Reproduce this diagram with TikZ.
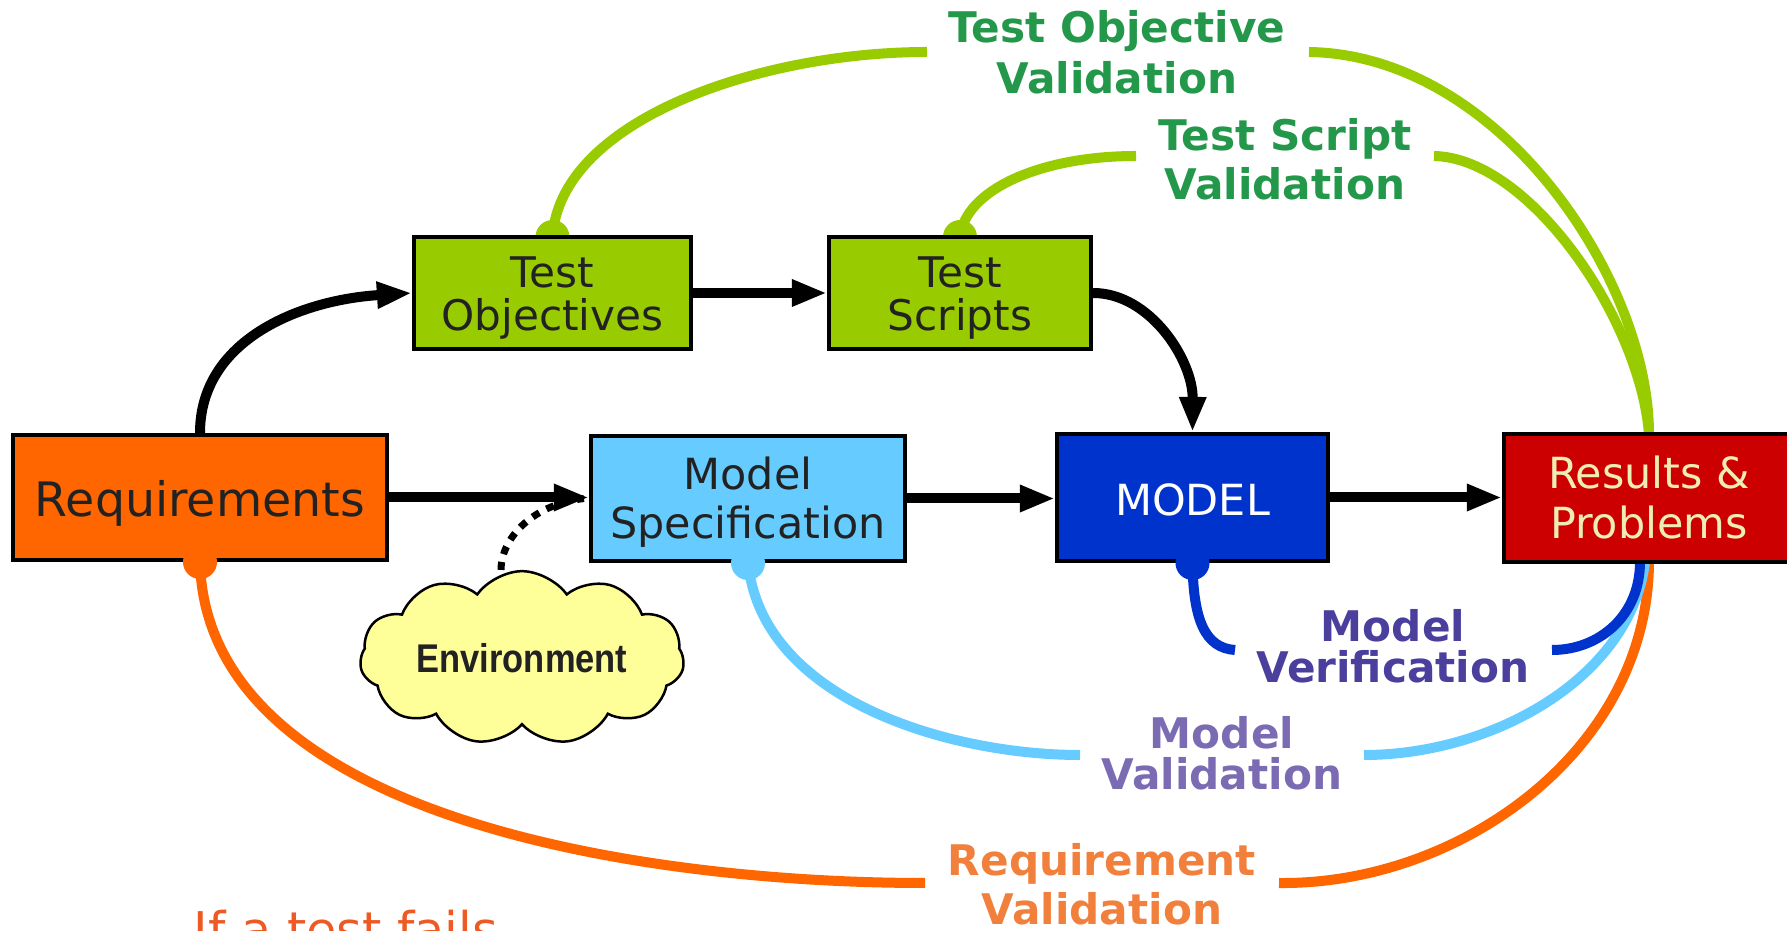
\documentclass[tikz,border=0pt]{standalone}
\usepackage{fontspec}
\setmainfont{DejaVu Sans}
\newfontfamily\envfont{Liberation Sans}[FakeStretch=0.86]
\usetikzlibrary{arrows.meta,shapes.symbols}
\lineskiplimit=-\maxdimen

\definecolor{reqor}{HTML}{FF6600}
\definecolor{tgreen}{HTML}{99CC00}
\definecolor{specblue}{HTML}{66CCFF}
\definecolor{modblue}{HTML}{0033CC}
\definecolor{resred}{HTML}{CC0000}
\definecolor{cloudy}{HTML}{FFFF99}
\definecolor{txtdark}{HTML}{222222}
\definecolor{rescream}{HTML}{EEEEB4}
\definecolor{labgreen}{HTML}{23984A}
\definecolor{labver}{HTML}{4B3F9E}
\definecolor{labval}{HTML}{7A6BB2}
\definecolor{labreq}{HTML}{F0803C}
\definecolor{failred}{HTML}{EE5A24}

\begin{document}
\begin{tikzpicture}[x=0.01cm, y=-0.01cm,
  box/.style={draw=black, line width=0.04cm, inner sep=0pt, text=txtdark},
  twoline/.style={font=\fontsize{12.2pt}{14.2pt}\selectfont, align=center},
  flowarrow/.style={line width=0.1cm, draw=black, -{Triangle[length=0.35cm, width=0.25cm]}},
  vline/.style={line width=0.1cm},
  ball/.style={radius=0.17cm},
  lab/.style={align=center, inner sep=0pt},
]
\useasboundingbox (0,0) rectangle (1787,931);
\clip (0,0) rectangle (1787,931);

% free ends of the validation curves beside their labels
\coordinate (tovL) at (927,52);   \coordinate (tovR) at (1309,52);
\coordinate (tsvL) at (1136,156); \coordinate (tsvR) at (1434,156);
\coordinate (mverL) at (1235,650); \coordinate (mverR) at (1552,650);
\coordinate (mvalL) at (1080,755); \coordinate (mvalR) at (1364,755);
\coordinate (rvalL) at (925,883);  \coordinate (rvalR) at (1279,883);

% boxes (positions only; curves are drawn against their anchors)
\path
  (200,497.5) coordinate (reqC)
  (552.5,293) coordinate (tobjC)
  (960,293)   coordinate (tscrC)
  (748,498.5) coordinate (specC)
  (1192.5,497.5) coordinate (modelC)
  (1649,498)  coordinate (resC);

% validation curves, under the boxes
\draw[vline, tgreen] (tobjC |- 0,237) .. controls (560,120) and (760,52) .. (tovL);
\draw[vline, tgreen] (tovR) .. controls (1500,55) and (1649,280) .. (1649,434);
\draw[vline, tgreen] (tscrC |- 0,237) .. controls (965,190) and (1040,156) .. (tsvL);
\draw[vline, tgreen] (tsvR) .. controls (1530,158) and (1640,320) .. (1649,434);
\fill[tgreen] (tobjC |- 0,237) circle[ball];
\fill[tgreen] (tscrC |- 0,237) circle[ball];

\draw[vline, reqor] (reqC |- 0,561) .. controls (205,820) and (650,883) .. (rvalL);
\draw[vline, reqor] (rvalR) .. controls (1460,885) and (1648,750) .. (1649,562);
\draw[vline, specblue] (specC |- 0,561) .. controls (760,700) and (950,755) .. (mvalL);
\draw[vline, specblue] (mvalR) .. controls (1490,755) and (1630,680) .. (1645,562);
\draw[vline, modblue] (modelC |- 0,561) .. controls (1193,620) and (1205,648) .. (mverL);
\draw[vline, modblue] (mverR) .. controls (1600,650) and (1640,615) .. (1640,562);

% process boxes
\node[box, fill=reqor, minimum width=3.74cm, minimum height=1.25cm,
      font=\fontsize{13.5pt}{16pt}\selectfont, text height=0.37cm, text depth=0cm]
      (req) at (reqC) {Requirements};
\node[box, fill=tgreen, minimum width=2.77cm, minimum height=1.12cm,
      font=\fontsize{12pt}{12.2pt}\selectfont, align=center]
      (tobj) at (tobjC) {\rule{0pt}{0.44cm}Test\\\strut Objectives};
\node[box, fill=tgreen, minimum width=2.62cm, minimum height=1.12cm,
      font=\fontsize{12pt}{12.2pt}\selectfont, align=center]
      (tscr) at (tscrC) {\rule{0pt}{0.44cm}Test\\\strut Scripts};
\node[box, twoline, fill=specblue, minimum width=3.14cm, minimum height=1.25cm]
      (spec) at (specC) {\rule{0pt}{0.46cm}Model\\\strut Specification};
\node[box, fill=modblue, text=white, minimum width=2.71cm, minimum height=1.27cm,
      font=\fontsize{12.2pt}{14.2pt}\selectfont, text height=0.35cm, text depth=0cm]
      (model) at (modelC) {MODEL};
\node[box, twoline, fill=resred, text=rescream, minimum width=2.90cm, minimum height=1.28cm]
      (res) at (resC) {\rule{0pt}{0.46cm}Results \&\\\strut Problems};

% source points of the bottom curves
\fill[reqor] (req.south) circle[ball];
\fill[specblue] (spec.south) circle[ball];
\fill[modblue] (model.south) circle[ball];

% environment cloud
\node[cloud, cloud puffs=11, cloud puff arc=110, aspect=2.2, draw=black,
      line width=0.025cm, fill=cloudy, minimum width=3.24cm, minimum height=1.46cm,
      inner sep=0pt, text=txtdark,
      font=\envfont\bfseries\fontsize{11.4pt}{13pt}\selectfont]
      (env) at (522,658) {Environment};

% process flow
\draw[flowarrow] (req.north) .. controls (200,340) and (300,300) .. (tobj.west);
\draw[flowarrow] (tobj.east) -- (tscr.west);
\draw[flowarrow] (tscr.east) .. controls (1150,293) and (1193,360) .. (model.north);
\draw[flowarrow] (req.east) -- (req.east -| spec.west);
\draw[flowarrow] (spec.east) -- (spec.east -| model.west);
\draw[flowarrow] (model.east) -- (model.east -| res.west);
\draw[line width=0.07cm, dash pattern=on 0.08cm off 0.08cm]
  ([xshift=-0.21cm]env.north) .. controls (501,540) and (530,505) .. ([xshift=-0.05cm]spec.west);

% validation labels
\node[lab, text=labgreen, font=\fontsize{12pt}{14.5pt}\selectfont\bfseries]
  (tov) at (1117,58) {\strut Test Objective\\\strut Validation};
\node[lab, text=labgreen, font=\fontsize{12pt}{14.2pt}\selectfont\bfseries]
  (tsv) at (1285,165) {\strut Test Script\\\strut Validation};
\node[lab, text=labver, font=\fontsize{12pt}{11.4pt}\selectfont\bfseries]
  (mver) at (1393,652) {\strut Model\\\strut Verification};
\node[lab, text=labval, font=\fontsize{12pt}{11.4pt}\selectfont\bfseries]
  (mval) at (1222,759) {\strut Model\\\strut Validation};
\node[lab, text=labreq, font=\fontsize{12pt}{14.2pt}\selectfont\bfseries]
  (rval) at (1102,890) {\strut Requirement\\\strut Validation};

\node[anchor=base west, inner sep=0pt, text=failred, font=\fontsize{14pt}{16pt}\selectfont]
  (fails) at (193,948) {If a test fails};
\end{tikzpicture}
\end{document}
